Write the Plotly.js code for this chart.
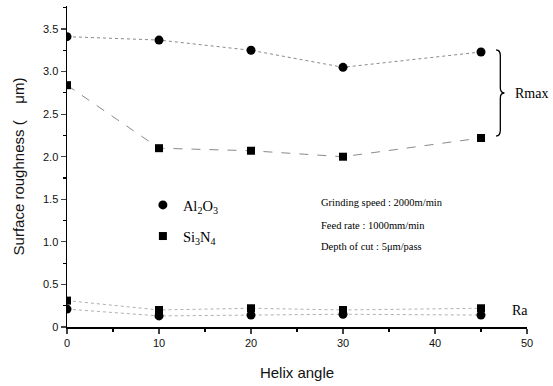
<!DOCTYPE html>
<html><head><meta charset="utf-8">
<script src="https://cdn.plot.ly/plotly-3.0.1.min.js"></script>
<style>html,body{margin:0;padding:0;background:#fff}#chart{width:553px;height:386px}</style>
</head><body><div id="chart"></div>
<script>
const helixAngle = [0, 10, 20, 30, 45];
const al2o3Rmax = [3.41, 3.37, 3.25, 3.05, 3.23];
const si3n4Rmax = [2.84, 2.10, 2.07, 2.00, 2.22];
const al2o3Ra = [0.21, 0.13, 0.14, 0.15, 0.14];
const si3n4Ra = [0.31, 0.20, 0.22, 0.20, 0.22];
const xTicks = [0, 10, 20, 30, 40, 50];
const yTicks = [0, 0.5, 1.0, 1.5, 2.0, 2.5, 3.0, 3.5];
const yTickText = ['0', '0.5', '1.0', '1.5', '2.0', '2.5', '3.0', '3.5'];

const lineStyle = {color: '#8a8a8a', width: 1, dash: 'dot'};
const circ = {symbol: 'circle', size: 9, color: '#000'};
const sq = {symbol: 'square', size: 8, color: '#000'};
const traces = [
  {x: helixAngle, y: al2o3Rmax, mode: 'lines+markers', line: lineStyle, marker: circ, showlegend: false},
  {x: helixAngle, y: si3n4Rmax, mode: 'lines+markers', line: {color: '#8a8a8a', width: 1, dash: 'dash'}, marker: sq, showlegend: false},
  {x: helixAngle, y: al2o3Ra, mode: 'lines+markers', line: {color: '#b0b0b0', width: 1, dash: 'dot'}, marker: circ, showlegend: false},
  {x: helixAngle, y: si3n4Ra, mode: 'lines+markers', line: {color: '#b0b0b0', width: 1, dash: 'dot'}, marker: sq, showlegend: false},
  {x: [null], y: [null], mode: 'markers', marker: circ, name: 'Al<sub>2</sub>O<sub>3</sub>', legend: 'legend'},
  {x: [null], y: [null], mode: 'markers', marker: sq, name: 'Si<sub>3</sub>N<sub>4</sub>', legend: 'legend2'}
];

const serif = {family: 'Liberation Serif, Times New Roman, serif', size: 10.5, color: '#000'};
const legFont = {family: 'Liberation Serif, Times New Roman, serif', size: 14.5, color: '#000'};
const layout = {
  width: 553, height: 386,
  margin: {l: 67, r: 26, t: 6, b: 59},
  paper_bgcolor: '#fff', plot_bgcolor: '#fff',
  font: {family: 'Liberation Sans, Arial, sans-serif', color: '#111'},
  xaxis: {
    range: [0, 50], tickvals: xTicks, ticks: 'outside', ticklen: 5, tickwidth: 1.2,
    showline: true, linecolor: '#000', linewidth: 1.5, showgrid: false, zeroline: false,
    minor: {dtick: 5, ticks: 'outside', ticklen: 3, tickcolor: '#000'},
    tickfont: {size: 11, color: '#111'},
    title: {text: 'Helix angle', font: {size: 15, color: '#111'}, standoff: 20}
  },
  yaxis: {
    range: [0, 3.77], tickvals: yTicks, ticktext: yTickText, ticks: 'outside', ticklen: 5, tickwidth: 1.2,
    showline: true, linecolor: '#000', linewidth: 1.5, showgrid: false, zeroline: false,
    minor: {dtick: 0.25, ticks: 'outside', ticklen: 3, tickcolor: '#000'},
    tickfont: {size: 11, color: '#111'},
    title: {text: 'Surface roughness (    \u03bcm)', font: {size: 15, color: '#111'}, standoff: 15}
  },
  legend: {x: 0.165, y: 0.43, xanchor: 'left', yanchor: 'top', font: legFont, bgcolor: 'rgba(0,0,0,0)', itemwidth: 30},
  legend2: {x: 0.165, y: 0.333, xanchor: 'left', yanchor: 'top', font: legFont, bgcolor: 'rgba(0,0,0,0)', itemwidth: 30},
  annotations: [
    {xref: 'paper', yref: 'paper', x: 0.548, y: 0.388, xanchor: 'left', yanchor: 'middle', showarrow: false, text: 'Grinding speed : 2000m/min', font: serif},
    {xref: 'paper', yref: 'paper', x: 0.548, y: 0.316, xanchor: 'left', yanchor: 'middle', showarrow: false, text: 'Feed rate : 1000mm/min', font: serif},
    {xref: 'paper', yref: 'paper', x: 0.548, y: 0.25, xanchor: 'left', yanchor: 'middle', showarrow: false, text: 'Depth of cut : 5\u03bcm/pass', font: serif},
    {xref: 'paper', yref: 'paper', x: 0.97, y: 0.727, xanchor: 'left', yanchor: 'middle', showarrow: false, text: 'Rmax', font: {family: serif.family, size: 14, color: '#000'}},
    {xref: 'paper', yref: 'paper', x: 0.963, y: 0.052, xanchor: 'left', yanchor: 'middle', showarrow: false, text: 'Ra', font: {family: serif.family, size: 14, color: '#000'}}
  ],
  shapes: [
    {type: 'path', xref: 'paper', yref: 'paper', line: {color: '#000', width: 1.3},
     path: 'M 0.933 0.863 Q 0.942 0.863 0.942 0.845 L 0.942 0.745 Q 0.942 0.729 0.951 0.729 Q 0.942 0.729 0.942 0.713 L 0.942 0.613 Q 0.942 0.595 0.933 0.595'}
  ]
};
Plotly.newPlot('chart', traces, layout, {staticPlot: true});
</script></body></html>
